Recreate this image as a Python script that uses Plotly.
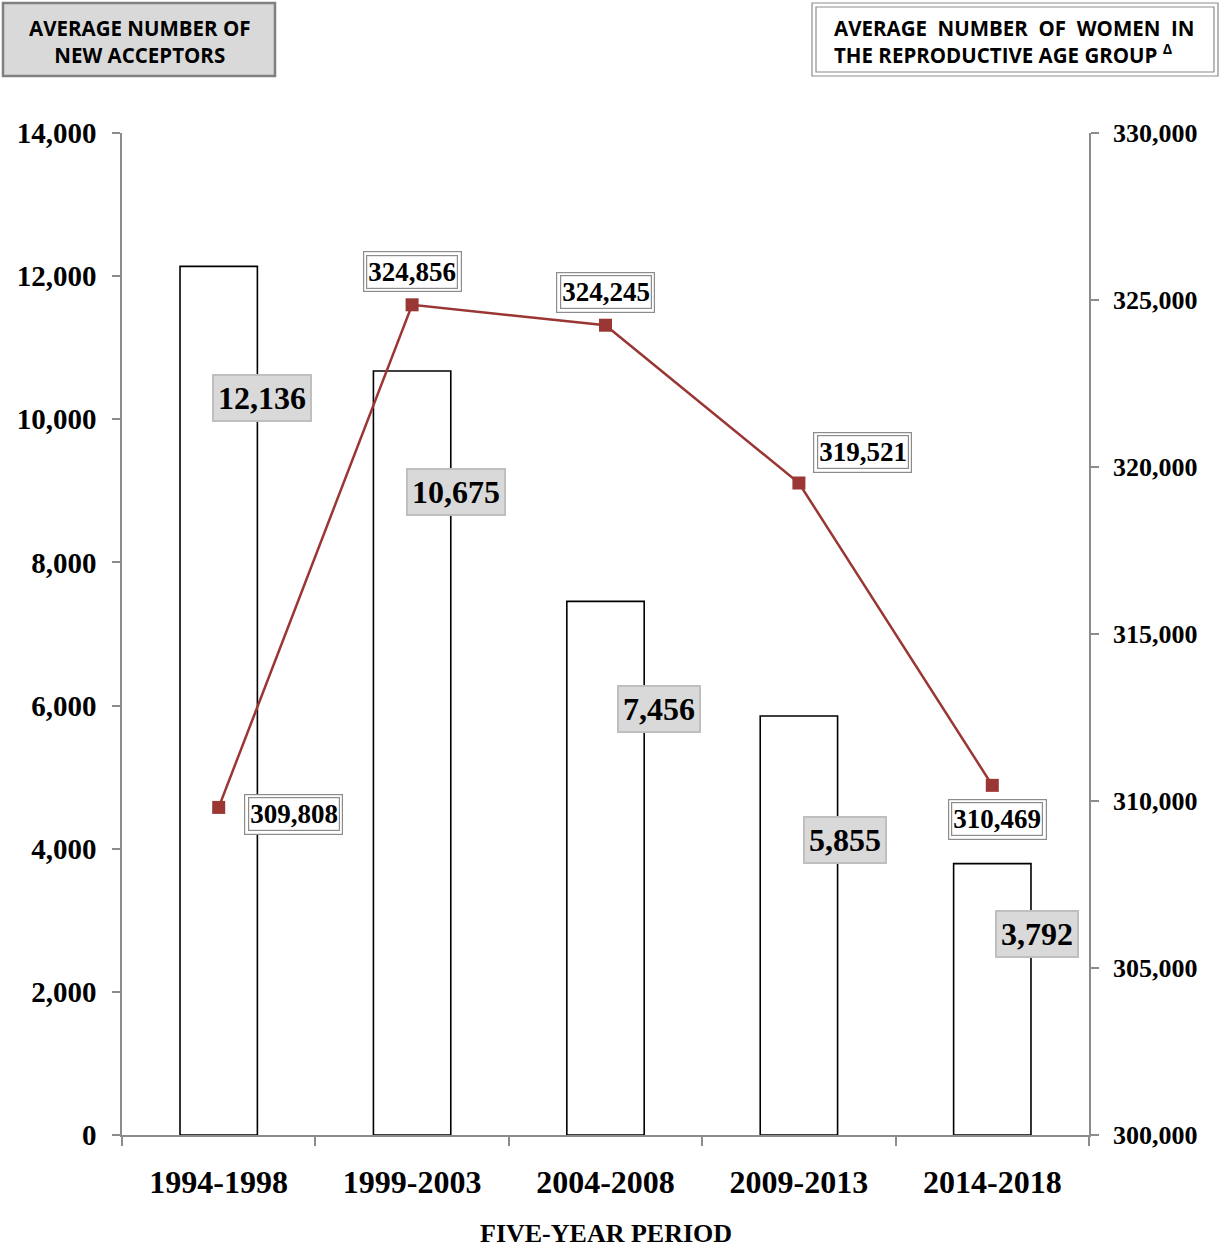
import plotly.graph_objects as go

periods = ["1994-1998", "1999-2003", "2004-2008", "2009-2013", "2014-2018"]
new_acceptors = [12136, 10675, 7456, 5855, 3792]
women_reproductive = [309808, 324856, 324245, 319521, 310469]
left_ticks = [0, 2000, 4000, 6000, 8000, 10000, 12000, 14000]
right_ticks = [300000, 305000, 310000, 315000, 320000, 325000, 330000]

# label placement (pixel shifts relative to the data point; +y is up)
bar_label_shift = [(43, -132), (44, -121), (53, -108), (46, -124), (45, -70)]
line_label_shift = [(75, -7), (0, 33), (0, 33), (64, 31), (5, -34)]

W, H = 1220, 1248
L, R, T, B = 122, 1089, 133, 1135


def px(x):
    return (x - L) / (R - L)


def py(y):
    return (B - y) / (B - T)


SERIF = "Liberation Serif, Times New Roman, serif"
SANS = "Open Sans, Lato, sans-serif"
LINE_COLOR = "#9a3634"
AXIS_COLOR = "#8c8c8c"

fig = go.Figure()
fig.add_trace(go.Bar(
    x=periods, y=new_acceptors, name="New acceptors",
    marker=dict(color="white", line=dict(color="black", width=1.6)),
    width=0.4, yaxis="y",
))
fig.add_trace(go.Scatter(
    x=periods, y=women_reproductive, name="Women", yaxis="y2",
    mode="lines+markers",
    line=dict(color=LINE_COLOR, width=2.5),
    marker=dict(symbol="square", size=13, color=LINE_COLOR),
))

annotations = []
for p, v, (dx, dy) in zip(periods, new_acceptors, bar_label_shift):
    annotations.append(dict(
        x=p, y=v, xref="x", yref="y", xshift=dx, yshift=dy,
        xanchor="center", yanchor="middle",
        text=f"<b>{v:,}</b>", showarrow=False,
        font=dict(family=SERIF, size=32, color="black"),
        bgcolor="#d9d9d9", bordercolor="#bfbfbf", borderwidth=2, borderpad=4,
    ))
for p, v, (dx, dy) in zip(periods, women_reproductive, line_label_shift):
    common = dict(x=p, y=v, xref="x", yref="y2", xshift=dx, yshift=dy,
                  xanchor="center", yanchor="middle",
                  text=f"<b>{v:,}</b>", showarrow=False,
                  font=dict(family=SERIF, size=27, color="black"))
    annotations.append(dict(**common, bgcolor="white", bordercolor="#8c8c8c",
                            borderwidth=1.2, borderpad=4.5))
    annotations.append(dict(**common, bgcolor="white", bordercolor="#8c8c8c",
                            borderwidth=1.2, borderpad=1))

# header boxes
annotations.append(dict(
    x=px(139), y=py(41), xref="paper", yref="paper", showarrow=False,
    xanchor="center", yanchor="middle",
    text="<b>AVERAGE NUMBER OF<br>NEW ACCEPTORS</b>", align="center",
    font=dict(family=SANS, size=20.5, color="black"),
))
annotations.append(dict(
    x=px(832), y=py(42), xref="paper", yref="paper", showarrow=False,
    xanchor="left", yanchor="middle",
    text="<b>AVERAGE  NUMBER  OF  WOMEN  IN<br>THE REPRODUCTIVE AGE GROUP <sup>Δ</sup></b>",
    align="left", font=dict(family=SANS, size=20.5, color="black"),
))
annotations.append(dict(
    x=0.5, y=py(1233), xref="paper", yref="paper", showarrow=False,
    xanchor="center", yanchor="middle",
    text="<b>FIVE-YEAR PERIOD</b>", font=dict(family=SERIF, size=26, color="black"),
))

shapes = [
    dict(type="rect", xref="paper", yref="paper", x0=px(3), x1=px(275), y0=py(76), y1=py(3),
         fillcolor="#d9d9d9", line=dict(color="#808080", width=2.5), layer="below"),
    dict(type="rect", xref="paper", yref="paper", x0=px(812), x1=px(1218), y0=py(76), y1=py(3),
         fillcolor="white", line=dict(color="#8c8c8c", width=1.2), layer="below"),
    dict(type="rect", xref="paper", yref="paper", x0=px(816), x1=px(1214), y0=py(72), y1=py(7),
         fillcolor="rgba(0,0,0,0)", line=dict(color="#8c8c8c", width=1.2), layer="below"),
]

fig.update_layout(
    width=W, height=H,
    margin=dict(l=L, r=W - R, t=T, b=H - B, pad=0),
    paper_bgcolor="white", plot_bgcolor="white",
    showlegend=False,
    bargap=0.6,
    annotations=annotations,
    shapes=shapes,
    xaxis=dict(
        type="category", showgrid=False, showline=True, linecolor=AXIS_COLOR, linewidth=1.5,
        ticks="outside", tickson="boundaries", ticklen=9, tickcolor=AXIS_COLOR, tickwidth=1.5,
        tickfont=dict(family=SERIF, size=32, color="black"),
        ticklabelstandoff=18,
        tickvals=periods, ticktext=[f"<b>{p}</b>" for p in periods],
    ),
    yaxis=dict(
        range=[0, 14000], tickvals=left_ticks, ticktext=[f"<b>{t:,}</b>" for t in left_ticks],
        showgrid=False, zeroline=False, showline=True, linecolor=AXIS_COLOR, linewidth=1.5,
        ticks="outside", ticklen=8, tickcolor=AXIS_COLOR, tickwidth=1.5,
        tickfont=dict(family=SERIF, size=29, color="black"), ticklabelstandoff=10,
    ),
    yaxis2=dict(
        range=[300000, 330000], tickvals=right_ticks, ticktext=[f"<b>{t:,}</b>" for t in right_ticks],
        overlaying="y", side="right", showgrid=False, zeroline=False,
        showline=True, linecolor=AXIS_COLOR, linewidth=1.5,
        ticks="outside", ticklen=8, tickcolor=AXIS_COLOR, tickwidth=1.5,
        tickfont=dict(family=SERIF, size=26, color="black"), ticklabelstandoff=9,
    ),
)

fig.write_html("out.html", config={"displayModeBar": False},
               post_script="document.body.style.margin='0px';")
